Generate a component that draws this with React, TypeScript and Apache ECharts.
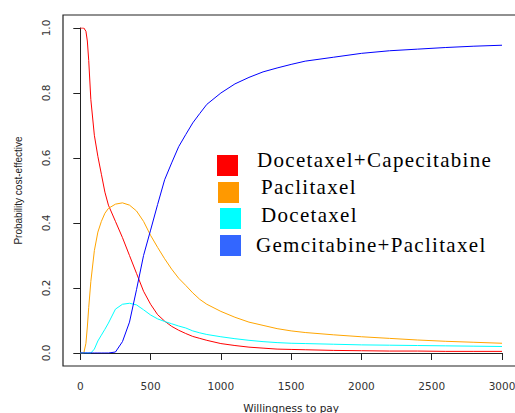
import React, { useEffect, useRef } from "react";
import * as echarts from "echarts";

const seriesNames = ["Docetaxel+Capecitabine", "Paclitaxel", "Docetaxel", "Gemcitabine+Paclitaxel"];
const lineColors = ["#FF0000", "#FFA500", "#00FFFF", "#0000FF"];
const legendColors = ["#FF0000", "#FF9900", "#00FFFF", "#3366FF"];

const wtp = [0, 25, 40, 50, 60, 75, 100, 125, 150, 175, 200, 250, 300, 350, 400, 450, 500, 550, 600, 650, 700, 750, 800, 850, 900, 1000, 1100, 1200, 1300, 1400, 1500, 1600, 1800, 2000, 2200, 2400, 2600, 2800, 3000];

const docCap = [1, 1, 0.99, 0.96, 0.9, 0.78, 0.67, 0.605, 0.55, 0.495, 0.455, 0.405, 0.355, 0.3, 0.245, 0.19, 0.15, 0.118, 0.098, 0.082, 0.07, 0.06, 0.051, 0.045, 0.039, 0.029, 0.023, 0.018, 0.015, 0.012, 0.011, 0.01, 0.008, 0.007, 0.006, 0.006, 0.005, 0.005, 0.005];
const paclitaxel = [0, 0, 0.03, 0.08, 0.14, 0.22, 0.315, 0.372, 0.405, 0.43, 0.445, 0.458, 0.462, 0.455, 0.437, 0.405, 0.362, 0.325, 0.29, 0.258, 0.23, 0.208, 0.185, 0.165, 0.15, 0.128, 0.11, 0.095, 0.085, 0.075, 0.068, 0.063, 0.056, 0.05, 0.045, 0.04, 0.036, 0.033, 0.03];
const docetaxel = [0, 0, 0, 0, 0, 0, 0.012, 0.037, 0.055, 0.073, 0.092, 0.135, 0.15, 0.153, 0.148, 0.133, 0.117, 0.105, 0.097, 0.09, 0.083, 0.077, 0.068, 0.062, 0.057, 0.05, 0.044, 0.039, 0.035, 0.032, 0.03, 0.029, 0.027, 0.025, 0.024, 0.023, 0.022, 0.021, 0.02];
const gemPac = [0, 0, 0, 0, 0, 0, 0, 0, 0, 0, 0, 0.003, 0.035, 0.095, 0.195, 0.3, 0.378, 0.457, 0.533, 0.585, 0.635, 0.672, 0.708, 0.737, 0.765, 0.8, 0.828, 0.848, 0.865, 0.877, 0.888, 0.898, 0.91, 0.922, 0.93, 0.935, 0.94, 0.944, 0.947];

const xTicks = { min: 0, max: 3000, interval: 500 };
const yTicks = { min: 0, max: 1, interval: 0.2 };
const xTitle = "Willingness to pay";
const yTitle = "Probability cost-effective";

const allSeries = [docCap, paclitaxel, docetaxel, gemPac];

export default function App() {
  const ref = useRef<HTMLDivElement>(null);
  useEffect(() => {
    if (!ref.current) return;
    const chart = echarts.init(ref.current, null, { renderer: "svg" });
    const legendRects = [
      { x: 217, y: 155 },
      { x: 218, y: 182 },
      { x: 220, y: 208 },
      { x: 220, y: 235 },
    ];
    const legendTexts = [
      { x: 257, y: 160 },
      { x: 261, y: 187 },
      { x: 261, y: 215 },
      { x: 256, y: 245 },
    ];
    const graphic: any[] = [
      {
        type: "rect",
        shape: { x: 63, y: 15, width: 456, height: 351 },
        style: { fill: "none", stroke: "#222", lineWidth: 1.2 },
        silent: true,
        z: 10,
      },
    ];
    seriesNames.forEach((name, i) => {
      graphic.push({
        type: "rect",
        shape: { x: legendRects[i].x, y: legendRects[i].y, width: 21, height: 21 },
        style: { fill: legendColors[i] },
        z: 10,
      });
      graphic.push({
        type: "text",
        x: legendTexts[i].x,
        y: legendTexts[i].y,
        style: {
          text: name,
          font: "21px 'Liberation Serif'",
          fill: "#000",
          textVerticalAlign: "middle",
          verticalAlign: "middle",
          align: "left",
        },
        z: 10,
      });
    });
    chart.setOption({
      animation: false,
      backgroundColor: "#fff",
      grid: { left: 80.3, right: 28, top: 28, bottom: 60, outerBoundsMode: "none", containLabel: false },
      xAxis: {
        type: "value",
        min: xTicks.min,
        max: xTicks.max,
        interval: xTicks.interval,
        offset: 13,
        name: xTitle,
        nameLocation: "middle",
        nameGap: 36,
        nameTextStyle: { fontFamily: "DejaVu Sans", fontSize: 10.5, color: "#222", verticalAlign: "top" },
        axisLine: { show: true, lineStyle: { color: "#222", width: 1 } },
        axisTick: { show: true, length: 7, lineStyle: { color: "#222" } },
        axisLabel: {
          fontFamily: "DejaVu Sans",
          fontSize: 10.5,
          color: "#333",
          margin: 14,
          formatter: (v: number) => String(v),
        },
        splitLine: { show: false },
      },
      yAxis: {
        type: "value",
        min: yTicks.min,
        max: yTicks.max,
        interval: yTicks.interval,
        offset: 17,
        name: yTitle,
        nameLocation: "middle",
        nameGap: 40,
        nameTextStyle: { fontFamily: "Liberation Sans", fontSize: 10, color: "#222" },
        axisLine: { show: true, lineStyle: { color: "#222", width: 1 } },
        axisTick: { show: true, length: 7, lineStyle: { color: "#222" } },
        axisLabel: {
          fontFamily: "DejaVu Sans",
          fontSize: 10.5,
          color: "#333",
          rotate: 90,
          margin: 12,
          formatter: (v: number) => v.toFixed(1),
        },
        splitLine: { show: false },
      },
      series: allSeries.map((vals, i) => ({
        type: "line",
        name: seriesNames[i],
        data: wtp.map((x, j) => [x, vals[j]]),
        showSymbol: false,
        symbol: "none",
        smooth: false,
        lineStyle: { color: lineColors[i], width: 1 },
        itemStyle: { color: lineColors[i] },
      })),
      graphic,
    });
    return () => chart.dispose();
  }, []);
  return (
    <div style={{ position: "absolute", left: 0, top: 0, width: 515, height: 413, overflow: "hidden", background: "#fff" }}>
      <style>{`text[style*="Serif"]{letter-spacing:1.3px;}`}</style>
      <div ref={ref} style={{ width: 530, height: 413 }} />
    </div>
  );
}
